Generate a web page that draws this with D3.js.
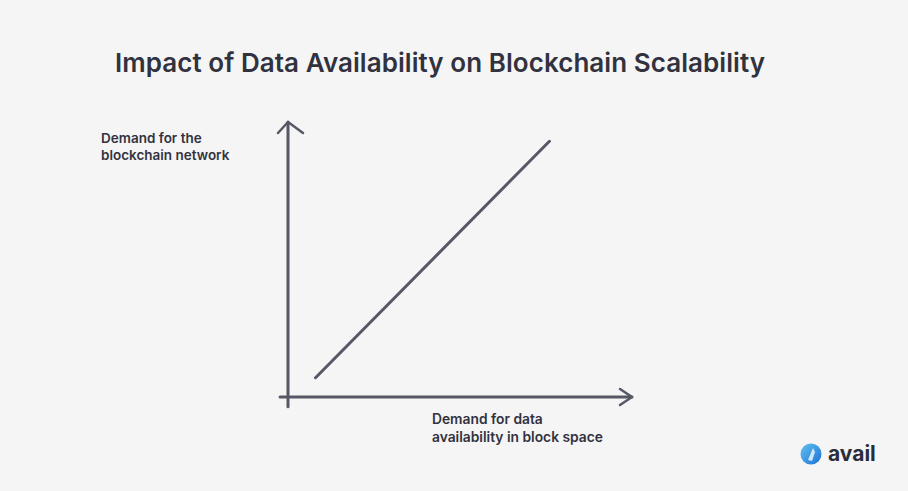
<!DOCTYPE html>
<html>
<head>
<meta charset="utf-8">
<script src="https://cdn.jsdelivr.net/npm/d3@7"></script>
<style>
  body { margin: 0; background: #f5f5f5; }
  svg { display: block; }
  text { font-family: "Inter", "Noto Sans", sans-serif; fill: #32323f; }
</style>
</head>
<body>
<div id="chart"></div>
<script>
// values (arbitrary 0-10 units)
var lineX = [0.8, 7.6];
var lineY = [0.7, 9.3];
var yLabel = ["Demand for the", "blockchain network"];
var xLabel = ["Demand for data", "availability in block space"];
var title = "Impact of Data Availability on Blockchain Scalability";

var width = 908, height = 491;
var ink = "#575865";

var x = d3.scaleLinear().domain([0, 10]).range([288, 632]);
var y = d3.scaleLinear().domain([0, 10]).range([397, 122]);

var svg = d3.select("#chart").append("svg")
  .attr("width", width)
  .attr("height", height);

svg.append("rect")
  .attr("width", width)
  .attr("height", height)
  .attr("fill", "#f5f5f5");

svg.append("text")
  .attr("x", 440)
  .attr("y", 72)
  .attr("text-anchor", "middle")
  .attr("textLength", 650)
  .style("font-size", "26px")
  .style("font-weight", 600)
  .text(title);

// axes drawn as hand-style arrows
var line = d3.line().x(function(d) { return d[0]; }).y(function(d) { return d[1]; });

svg.append("path")
  .attr("d", line([[x(0), y(-0.35)], [x(0), y(10)]]))
  .attr("stroke", ink).attr("stroke-width", 3).attr("fill", "none")
  .attr("stroke-linecap", "round");
svg.append("path")
  .attr("d", line([[x(0) - 10, y(10) + 11], [x(0), y(10)], [x(0) + 15, y(10) + 11]]))
  .attr("stroke", ink).attr("stroke-width", 2.5).attr("fill", "none")
  .attr("stroke-linecap", "round").attr("stroke-linejoin", "round");

svg.append("path")
  .attr("d", line([[x(-0.23), y(0)], [x(10), y(0)]]))
  .attr("stroke", ink).attr("stroke-width", 3).attr("fill", "none")
  .attr("stroke-linecap", "round");
svg.append("path")
  .attr("d", line([[x(10) - 12, y(0) - 8], [x(10), y(0)], [x(10) - 12, y(0) + 8]]))
  .attr("stroke", ink).attr("stroke-width", 2.5).attr("fill", "none")
  .attr("stroke-linecap", "round").attr("stroke-linejoin", "round");

// the relation line
var pts = lineX.map(function(v, i) { return [x(v), y(lineY[i])]; });
svg.append("path")
  .attr("d", line(pts))
  .attr("stroke", ink).attr("stroke-width", 3).attr("fill", "none")
  .attr("stroke-linecap", "round");

svg.append("text")
  .attr("x", 101)
  .attr("y", 143)
  .style("font-size", "13.5px")
  .style("font-weight", 600)
  .selectAll("tspan")
  .data(yLabel)
  .enter().append("tspan")
    .attr("x", 101)
    .attr("dy", function(d, i) { return i ? 17 : 0; })
    .text(function(d) { return d; });

svg.append("text")
  .attr("x", 432)
  .attr("y", 424)
  .style("font-size", "13.8px")
  .style("font-weight", 600)
  .selectAll("tspan")
  .data(xLabel)
  .enter().append("tspan")
    .attr("x", 432)
    .attr("dy", function(d, i) { return i ? 18 : 0; })
    .text(function(d) { return d; });

// logo
var logo = svg.append("g").attr("transform", "translate(811,454)");
var grad = svg.append("defs").append("linearGradient")
  .attr("id", "lg").attr("x1", 0).attr("y1", 0).attr("x2", 1).attr("y2", 1);
grad.append("stop").attr("offset", "0%").attr("stop-color", "#5fc4f0");
grad.append("stop").attr("offset", "100%").attr("stop-color", "#1f6fd6");
logo.append("circle").attr("r", 10.5).attr("fill", "url(#lg)");
logo.append("path")
  .attr("d", "M-3,6 L2,-6 L4,-2 L1,7 Z")
  .attr("fill", "#e8f6ff").attr("opacity", 0.85);
svg.append("text")
  .attr("x", 828)
  .attr("y", 461)
  .style("font-size", "21px")
  .style("font-weight", 700)
  .style("fill", "#2b2b3a")
  .text("avail");
</script>
</body>
</html>
